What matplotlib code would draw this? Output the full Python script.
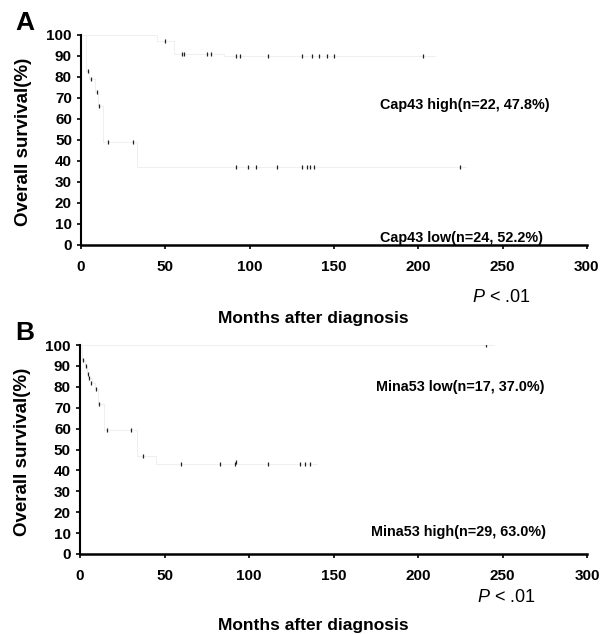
import matplotlib
matplotlib.use("Agg")
import matplotlib.pyplot as plt

plt.rcParams['font.family'] = ['Liberation Sans', 'DejaVu Sans']
plt.rcParams['mathtext.fontset'] = 'custom'
plt.rcParams['mathtext.rm'] = 'Liberation Sans'
plt.rcParams['mathtext.it'] = 'Liberation Sans:italic'

# ---- Panel A: Cap43 ----
cap_high_t = [0, 45, 55, 85]
cap_high_s = [100, 97, 91, 90]
cap_high_ct = [50, 60, 61, 75, 77, 92, 94, 111, 131, 137, 141, 146, 150, 203]
cap_high_cs = [97, 91, 91, 91, 91, 90, 90, 90, 90, 90, 90, 90, 90, 90]

cap_low_t = [0, 3, 5, 8, 10, 13, 33]
cap_low_s = [100, 83, 79, 73, 66, 49, 37]
cap_low_ct = [4, 6, 9.5, 10.5, 16, 31, 92, 99, 104, 116, 131, 134, 136, 138, 225]
cap_low_cs = [83, 79, 73, 66, 49, 49, 37, 37, 37, 37, 37, 37, 37, 37, 37]

# ---- Panel B: Mina53 ----
mina_low_t = [0]
mina_low_s = [100]
mina_low_ct = [240]
mina_low_cs = [100]

mina_high_t = [0, 1, 3, 4, 5, 7, 9, 10.5, 14, 34, 45]
mina_high_s = [100, 93, 90, 86, 84, 82, 79, 72, 59.5, 47, 43]
mina_high_ct = [2, 3.5, 4.5, 5.5, 6.5, 9.5, 11, 16, 30, 37, 60, 83, 92, 92.5, 111, 130, 133, 136]
mina_high_cs = [93, 90, 86, 84, 82, 79, 72, 59.5, 59.5, 47, 43, 43, 43, 44, 43, 43, 43, 43]

xticks = [0, 50, 100, 150, 200, 250, 300]
yticks = list(range(0, 101, 10))

fig = plt.figure(figsize=(6.11, 6.34), dpi=100)
axA = fig.add_axes([0.1326, 0.6136, 0.828, 0.3312])
axB = fig.add_axes([0.1309, 0.1262, 0.830, 0.3296])


def km(ax, t, s, end, ct, cs):
    # scanned curves barely show: faint steps, dark censor ticks
    tt = list(t) + [end]
    ss = list(s) + [s[-1]]
    ax.step(tt, ss, where='post', color='#ededed', lw=0.6, zorder=1)
    ax.plot(ct, cs, ls='none', marker='|', ms=3.5, mew=0.9, color='#222222', zorder=2)


def style(ax):
    ax.set_xlim(0, 300)
    ax.set_ylim(0, 100)
    ax.set_xticks(xticks)
    ax.set_yticks(yticks)
    for side in ['top', 'right']:
        ax.spines[side].set_visible(False)
    ax.spines['left'].set_linewidth(1.5)
    ax.spines['bottom'].set_linewidth(1.8)
    ax.tick_params(axis='both', direction='out', length=3, width=1.2)
    ax.tick_params(axis='x', pad=8)
    ax.tick_params(axis='y', pad=3.5)
    for lab in ax.get_xticklabels() + ax.get_yticklabels():
        lab.set_fontsize(11)
        lab.set_fontweight('bold')
    ax.set_ylabel('Overall survival(%)', fontsize=13.5, fontweight='bold')
    ax.yaxis.set_label_coords(-0.097, 0.49)


km(axA, cap_high_t, cap_high_s, 210, cap_high_ct, cap_high_cs)
km(axA, cap_low_t, cap_low_s, 228, cap_low_ct, cap_low_cs)
style(axA)
axA.text(177, 66.7, 'Cap43 high(n=22, 47.8%)', fontsize=10.4, fontweight='bold', va='center')
axA.text(177, 3.3, 'Cap43 low(n=24, 52.2%)', fontsize=10.4, fontweight='bold', va='center')
axA.text(232, -25, r'$\mathit{P}$ < .01', fontsize=13, va='center', clip_on=False)
axA.text(138, -35, 'Months after diagnosis', fontsize=12.5, fontweight='bold',
         ha='center', va='center', clip_on=False)

km(axB, mina_low_t, mina_low_s, 245, mina_low_ct, mina_low_cs)
km(axB, mina_high_t, mina_high_s, 140, mina_high_ct, mina_high_cs)
style(axB)
axB.text(175, 80, 'Mina53 low(n=17, 37.0%)', fontsize=10.4, fontweight='bold', va='center')
axB.text(172, 10.5, 'Mina53 high(n=29, 63.0%)', fontsize=10.4, fontweight='bold', va='center')
axB.text(235, -21, r'$\mathit{P}$ < .01', fontsize=13, va='center', clip_on=False)
axB.text(138, -34, 'Months after diagnosis', fontsize=12.5, fontweight='bold',
         ha='center', va='center', clip_on=False)

fig.text(25 / 611, 1 - 23 / 634, 'A', fontsize=19, fontweight='bold', ha='center', va='center')
fig.text(25 / 611, 1 - 333 / 634, 'B', fontsize=19, fontweight='bold', ha='center', va='center')

fig.savefig('out.png', dpi=100)
